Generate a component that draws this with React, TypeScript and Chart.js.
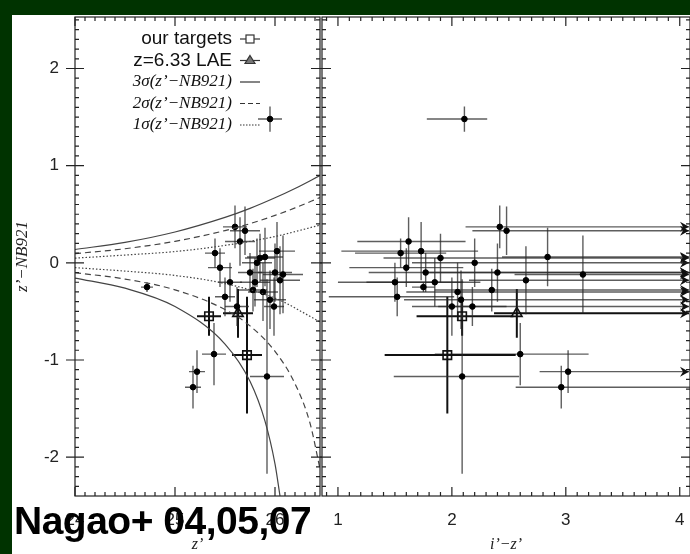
import React, { useEffect, useRef } from "react";
import { Chart, registerables } from "chart.js";
Chart.register(...registerables);

// object data (index aligned)
const zMag = [25.95, 24.72, 25.18, 25.22, 25.39, 25.34, 25.72, 25.63, 25.92, 25.99, 25.4, 25.45, 25.55, 25.6, 25.65, 25.7, 25.75, 25.8, 25.85, 25.88, 25.9, 26.0, 26.02, 25.95, 26.05, 25.5, 25.78, 25.82, 25.62, 26.08];
const zMagErr = [0.12, 0.06, 0.08, 0.08, 0.12, 0.12, 0.15, 0.15, 0.17, 0.1, 0.1, 0.12, 0.12, 0.12, 0.15, 0.15, 0.12, 0.15, 0.15, 0.15, 0.18, 0.17, 0.18, 0.16, 0.2, 0.1, 0.14, 0.15, 0.12, 0.2];
const zNB = [1.48, -0.25, -1.28, -1.12, -0.94, -0.55, -0.95, -0.52, -1.17, -0.45, 0.1, -0.05, -0.2, 0.37, 0.22, 0.33, -0.1, -0.2, 0.05, -0.3, 0.06, -0.1, 0.12, -0.38, -0.18, -0.35, -0.28, 0.0, -0.45, -0.12];
const zNBErr = [0.13, 0.05, 0.22, 0.22, 0.32, 0.2, 0.6, 0.25, 1.0, 0.3, 0.15, 0.2, 0.2, 0.22, 0.25, 0.25, 0.2, 0.25, 0.25, 0.3, 0.3, 0.3, 0.3, 0.3, 0.35, 0.2, 0.22, 0.25, 0.2, 0.4];
const iz = [2.11, 1.75, 2.96, 3.02, 2.6, 2.09, 1.96, 2.57, 2.09, 2.0, 1.55, 1.6, 1.5, 2.42, 1.62, 2.48, 1.77, 1.85, 1.9, 2.05, 2.84, 2.4, 1.73, 2.08, 2.65, 1.52, 2.35, 2.2, 2.18, 3.15];
const izLo = [0.33, 0.1, 0.4, 0.25, 0.75, 0.4, 0.55, 0.2, 0.6, 0.35, 0.4, 0.5, 0.5, 0.3, 0.45, 0.3, 0.5, 0.6, 0.5, 0.45, 0.4, 0.6, 0.7, 0.5, 0.5, 0.6, 0.5, 0.55, 0.3, 0.6];
const izHi = [0.2, 0.1, 1.2, 0, 0.6, 0.45, 0.6, 0, 0.5, 0, 0.4, 0.5, 0.6, 0, 0.5, 0, 0, 0.4, 0, 0, 0, 0, 0.5, 0, 0, 0.5, 0, 0, 0.3, 0];
const izLimit = [0, 0, 0, 1, 0, 0, 0, 1, 0, 1, 0, 0, 0, 1, 0, 1, 1, 0, 1, 1, 1, 1, 0, 1, 1, 0, 1, 1, 0, 1];
const kind = ["pt", "pt", "pt", "pt", "pt", "sq", "sq", "tri", "pt", "pt", "pt", "pt", "pt", "pt", "pt", "pt", "pt", "pt", "pt", "pt", "pt", "pt", "pt", "pt", "pt", "pt", "pt", "pt", "pt", "pt"];

// sigma curves
const s3UpX = [24, 24.5, 25, 25.5, 25.75, 26, 26.2, 26.45];
const s3Up = [0.137, 0.21, 0.317, 0.467, 0.56, 0.669, 0.765, 0.898];
const s3LoX = [24, 24.5, 25, 25.5, 25.75, 25.9, 26, 26.05];
const s3Lo = [-0.157, -0.261, -0.45, -0.836, -1.22, -1.63, -2.07, -2.4];
const s2UpX = [24, 24.5, 25, 25.5, 25.75, 26, 26.2, 26.45];
const s2Up = [0.094, 0.145, 0.221, 0.332, 0.403, 0.488, 0.565, 0.672];
const s2LoX = [24, 24.5, 25, 25.5, 25.75, 26, 26.2, 26.35, 26.45];
const s2Lo = [-0.102, -0.167, -0.278, -0.481, -0.649, -0.911, -1.244, -1.65, -2.12];
const s1X = [24, 24.5, 25, 25.5, 26, 26.45];
const s1Up = [0.048, 0.08, 0.116, 0.179, 0.271, 0.388];
const s1Lo = [-0.05, -0.085, -0.13, -0.214, -0.363, -0.608];

const xTicksL = [24, 25, 26];
const xTicksR = [1, 2, 3, 4];
const yTicks = [-2, -1, 0, 1, 2];

const GREY = "rgba(40,40,40,0.75)";
const FONT = "'Liberation Sans', Arial, sans-serif";

function frame(minorX: number, minorY: number, xt: number[], showY: boolean) {
  return {
    id: "frame",
    afterDraw(chart: any) {
      const { ctx, chartArea: a, scales } = chart;
      const xs = scales.x, ys = scales.y;
      ctx.save();
      ctx.strokeStyle = "#222";
      ctx.lineWidth = 1.2;
      ctx.strokeRect(a.left, a.top, a.right - a.left, a.bottom - a.top);
      const start = Math.ceil(xs.min / minorX);
      for (let k = start; k * minorX <= xs.max + 1e-9; k++) {
        const v = k * minorX;
        const major = Math.abs(v - Math.round(v)) < 1e-6;
        const len = major ? 9 : 4;
        const p = xs.getPixelForValue(v);
        ctx.beginPath();
        ctx.moveTo(p, a.bottom); ctx.lineTo(p, a.bottom - len);
        ctx.moveTo(p, a.top); ctx.lineTo(p, a.top + len);
        ctx.stroke();
      }
      const ys0 = Math.ceil(ys.min / minorY);
      for (let k = ys0; k * minorY <= ys.max + 1e-9; k++) {
        const v = k * minorY;
        const major = Math.abs(v - Math.round(v)) < 1e-6;
        const len = major ? 9 : 4;
        const p = ys.getPixelForValue(v);
        ctx.beginPath();
        ctx.moveTo(a.left, p); ctx.lineTo(a.left + len, p);
        ctx.moveTo(a.right, p); ctx.lineTo(a.right - len, p);
        if (major) { ctx.moveTo(a.left - 9, p); ctx.lineTo(a.left, p); ctx.moveTo(a.right, p); ctx.lineTo(a.right + 9, p); }
        ctx.stroke();
      }
      ctx.fillStyle = "#222";
      ctx.font = "17px " + FONT;
      ctx.textAlign = "center";
      ctx.textBaseline = "top";
      xt.forEach((v) => ctx.fillText(String(v), xs.getPixelForValue(v), a.bottom + 16));
      if (showY) {
        ctx.textAlign = "right";
        ctx.textBaseline = "middle";
        yTicks.forEach((v) => ctx.fillText(String(v), a.left - 16, ys.getPixelForValue(v)));
      }
      ctx.restore();
    },
  };
}

function errorBars(xv: number[], xlo: number[], xhi: number[], lim: number[] | null) {
  return {
    id: "errbars",
    beforeDatasetsDraw(chart: any) {
      const { ctx, chartArea: a, scales } = chart;
      const xs = scales.x, ys = scales.y;
      ctx.save();
      ctx.beginPath();
      ctx.rect(a.left, a.top, a.right - a.left, a.bottom - a.top);
      ctx.clip();
      for (let i = 0; i < xv.length; i++) {
        const strong = kind[i] !== "pt";
        ctx.strokeStyle = strong ? "#111" : GREY;
        ctx.lineWidth = strong ? 2 : 1.4;
        const px = xs.getPixelForValue(xv[i]);
        const py = ys.getPixelForValue(zNB[i]);
        ctx.beginPath();
        ctx.moveTo(px, ys.getPixelForValue(zNB[i] - zNBErr[i]));
        ctx.lineTo(px, ys.getPixelForValue(zNB[i] + zNBErr[i]));
        const x0 = xs.getPixelForValue(xv[i] - xlo[i]);
        const isLim = lim && lim[i];
        const x1 = isLim ? a.right - 1 : xs.getPixelForValue(xv[i] + xhi[i]);
        ctx.moveTo(x0, py);
        ctx.lineTo(x1, py);
        ctx.stroke();
        if (isLim) {
          ctx.fillStyle = "#111";
          ctx.beginPath();
          ctx.moveTo(a.right - 1, py);
          ctx.lineTo(a.right - 10, py - 5);
          ctx.lineTo(a.right - 7, py);
          ctx.lineTo(a.right - 10, py + 5);
          ctx.closePath();
          ctx.fill();
        }
      }
      ctx.restore();
    },
  };
}

const legendPlugin = {
  id: "legendText",
  afterDraw(chart: any) {
    const { ctx, chartArea: a } = chart;
    ctx.save();
    const rightX = a.left + 157;
    const lineX0 = a.left + 165, lineX1 = a.left + 185;
    const rows: [string, string, string][] = [
      ["our targets", "sq", "19px " + FONT],
      ["z=6.33 LAE", "tri", "19px " + FONT],
      ["3σ(z’−NB921)", "solid", "italic 17px 'Liberation Serif', serif"],
      ["2σ(z’−NB921)", "dash", "italic 17px 'Liberation Serif', serif"],
      ["1σ(z’−NB921)", "dot", "italic 17px 'Liberation Serif', serif"],
    ];
    ctx.textAlign = "right";
    ctx.textBaseline = "middle";
    ctx.fillStyle = "#111";
    rows.forEach((r, i) => {
      const y = a.top + 22 + i * 21.5;
      ctx.font = r[2];
      ctx.fillText(r[0], rightX, y);
      ctx.strokeStyle = "#333";
      ctx.lineWidth = 1.2;
      ctx.setLineDash(r[1] === "dash" ? [5, 3] : r[1] === "dot" ? [1.5, 1.5] : []);
      ctx.beginPath();
      ctx.moveTo(lineX0, y); ctx.lineTo(lineX1, y); ctx.stroke();
      ctx.setLineDash([]);
      const cx = (lineX0 + lineX1) / 2;
      if (r[1] === "sq") { ctx.fillStyle = "#fff"; ctx.fillRect(cx - 4, y - 4, 8, 8); ctx.strokeRect(cx - 4, y - 4, 8, 8); ctx.fillStyle = "#111"; }
      if (r[1] === "tri") { ctx.beginPath(); ctx.moveTo(cx, y - 5); ctx.lineTo(cx + 5, y + 3); ctx.lineTo(cx - 5, y + 3); ctx.closePath(); ctx.fillStyle = "#777"; ctx.fill(); ctx.stroke(); ctx.fillStyle = "#111"; }
    });
    ctx.restore();
  },
};

function pointDatasets(xv: number[]) {
  const pts = xv.map((x, i) => ({ x, y: zNB[i], k: kind[i] }));
  return [
    { type: "scatter", data: pts.filter((p) => p.k === "pt"), pointStyle: "circle", pointRadius: 2.8, backgroundColor: "#000", borderColor: "#000" },
    { type: "scatter", data: pts.filter((p) => p.k === "sq"), pointStyle: "rect", pointRadius: 6, backgroundColor: "rgba(255,255,255,0)", borderColor: "#111", borderWidth: 1.6 },
    { type: "scatter", data: pts.filter((p) => p.k === "tri"), pointStyle: "triangle", pointRadius: 6, backgroundColor: "rgba(255,255,255,0)", borderColor: "#111", borderWidth: 1.6 },
  ];
}

function curve(xs: number[], ys: number[], dash: number[]) {
  return {
    type: "line", data: xs.map((x, i) => ({ x, y: ys[i] })), borderColor: "#444", borderWidth: 1.2,
    borderDash: dash, pointRadius: 0, cubicInterpolationMode: "monotone", fill: false,
  };
}

function baseOptions(xmin: number, xmax: number, showY: boolean, xTitle: string, padding: any) {
  return {
    animation: false, responsive: false, maintainAspectRatio: false,
    layout: { padding, autoPadding: false },
    plugins: { legend: { display: false }, tooltip: { enabled: false } },
    scales: {
      x: {
        type: "linear", min: xmin, max: xmax,
        grid: { display: false }, border: { display: false },
        ticks: { display: false },
        title: { display: true, text: xTitle, font: { size: 16, family: "'Liberation Serif', serif", style: "italic" }, color: "#222", padding: 0 },
        afterFit: (s: any) => { s.height = 58; },
      },
      y: {
        type: "linear", min: -2.4, max: 2.53, display: showY,
        grid: { display: false }, border: { display: false },
        ticks: { display: false },
        title: { display: true, text: "z’−NB921", font: { size: 17, family: "'Liberation Serif', serif", style: "italic" }, color: "#222", padding: 0 },
        afterFit: (s: any) => { s.width = showY ? 63 : 0; },
      },
    },
  };
}

export default function App() {
  const leftRef = useRef<HTMLCanvasElement>(null);
  const rightRef = useRef<HTMLCanvasElement>(null);
  useEffect(() => {
    const left = new Chart(leftRef.current as any, {
      type: "scatter",
      data: {
        datasets: [
          curve(s3UpX, s3Up, []), curve(s3LoX, s3Lo, []),
          curve(s2UpX, s2Up, [6, 4]), curve(s2LoX, s2Lo, [6, 4]),
          curve(s1X, s1Up, [1.5, 2]), curve(s1X, s1Lo, [1.5, 2]),
          ...pointDatasets(zMag),
        ] as any,
      },
      options: baseOptions(24, 26.45, true, "z’", { top: 2, right: 2, left: 0, bottom: 0 }) as any,
      plugins: [errorBars(zMag, zMagErr, zMagErr, null), frame(0.1, 0.1, xTicksL, true), legendPlugin],
    });
    const right = new Chart(rightRef.current as any, {
      type: "scatter",
      data: { datasets: pointDatasets(iz) as any },
      options: baseOptions(0.86, 4.09, false, "i’−z’", { top: 2, right: 0, left: 2, bottom: 0 }) as any,
      plugins: [errorBars(iz, izLo, izHi, izLimit), frame(0.1, 0.1, xTicksR, false)],
    });
    return () => { left.destroy(); right.destroy(); };
  }, []);
  return (
    <div style={{ position: "fixed", left: 0, top: 0, width: 690, height: 554, background: "#003300", overflow: "hidden" }}>
      <div style={{ position: "absolute", left: 12, top: 15, width: 678, height: 539, background: "#fff" }} />
      <canvas ref={leftRef} width={310} height={539} style={{ position: "absolute", left: 12, top: 15, width: 310, height: 539 }} />
      <canvas ref={rightRef} width={370} height={539} style={{ position: "absolute", left: 320, top: 15, width: 370, height: 539 }} />
      <div style={{ position: "absolute", left: 14, top: 499, fontFamily: FONT, fontWeight: "bold", fontSize: 39, color: "#000", whiteSpace: "nowrap", letterSpacing: -0.5 }}>
        Nagao+ 04,05,07
      </div>
    </div>
  );
}
